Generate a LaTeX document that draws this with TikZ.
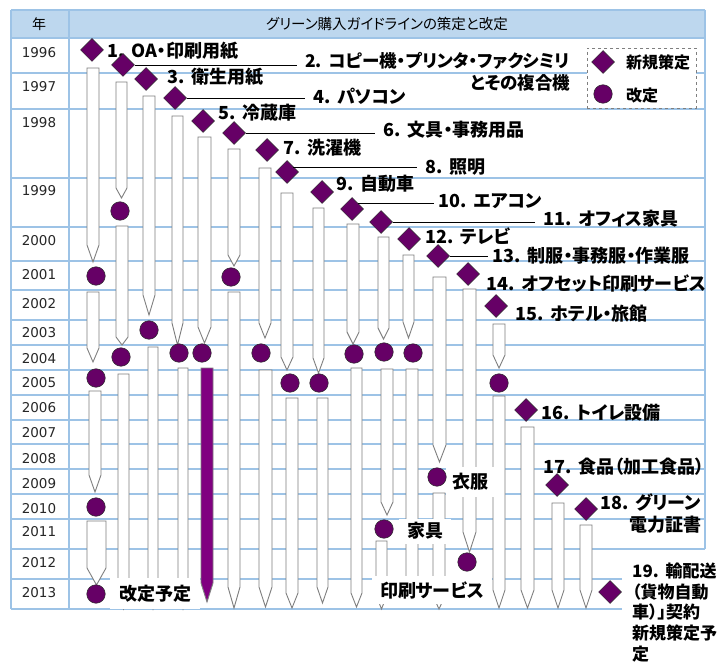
\documentclass[tikz,border=0pt]{standalone}
\usepackage{fontspec}
\setmainfont{Noto Sans CJK JP}[RawFeature=+palt]
\newfontfamily\yearfont{DejaVu Sans}
\usetikzlibrary{shapes.geometric}
\definecolor{gridblue}{HTML}{9DC3E6}
\definecolor{hdrblue}{HTML}{BDD7EE}
\definecolor{markpurple}{HTML}{660066}
\definecolor{barpurple}{HTML}{800080}
\definecolor{pgray}{HTML}{7F7F7F}
\newcommand\nsep{\hspace{0.4em}}
\newcommand\pencil[6][white]{%
  \draw[pencilline, fill=#1] (#2,#4) -- (#3,#4) -- (#3,#5) -- ({(#2+#3)/2},#6) -- (#2,#5) -- cycle;}
\tikzset{
  pencilline/.style={draw=pgray, line width=0.9pt},
  gridline/.style={draw=gridblue, line width=1.3pt},
  newmark/.style={shape=diamond, fill=markpurple, draw=black!85, line width=0.5pt, minimum width=23pt, minimum height=23pt, inner sep=0pt},
  revmark/.style={circle, fill=markpurple, draw=black!85, line width=0.5pt, minimum size=18.5pt, inner sep=0pt},
  lbl/.style={font=\fontsize{18}{22}\selectfont\bfseries, inner sep=0pt, anchor=west},
  boxlbl/.style={font=\fontsize{18}{22}\selectfont\bfseries, fill=white, inner sep=0pt},
  yr/.style={font=\yearfont\fontsize{13.5}{16}\selectfont, text=black!85},
  conn/.style={draw=black, line width=0.8pt},
  legendtxt/.style={font=\fontsize{16}{18}\selectfont\bfseries, inner sep=0pt, anchor=west}
}
\begin{document}
\begin{tikzpicture}[x=1pt, y=-1pt]
\useasboundingbox (0,0) rectangle (726,666);
\fill[white] (0,0) rectangle (726,666);
% header
\fill[hdrblue] (11,10) rectangle (705,38);
% grid
\foreach \yy in {10,38,73,109,178,227,261,290,320,345,370,395,420,444,469,494,519,549,579,609}
  \draw[gridline] (11,\yy) -- (705,\yy);
\fill[white] (622,551) rectangle (726,666);
\draw[gridline] (11,10) -- (11,609);
\draw[gridline] (69,10) -- (69,609);
\draw[gridline] (705,10) -- (705,549);
% header text
\node[font=\fontsize{14}{16}\selectfont] (hy) at (39,24) {年};
\node[font=\fontsize{14.5}{16}\selectfont] (ht) at (387,24) {グリーン購入ガイドラインの策定と改定};
% years
\node[yr] (y96) at (39,52.5) {1996};
\node[yr] (y97) at (39,87) {1997};
\node[yr] (y98) at (39,122.5) {1998};
\node[yr] (y99) at (39,191) {1999};
\node[yr] (y00) at (39,241) {2000};
\node[yr] (y01) at (39,275) {2001};
\node[yr] (y02) at (39,304) {2002};
\node[yr] (y03) at (39,333) {2003};
\node[yr] (y04) at (39,359) {2004};
\node[yr] (y05) at (39,383) {2005};
\node[yr] (y06) at (39,408) {2006};
\node[yr] (y07) at (39,433) {2007};
\node[yr] (y08) at (39,459) {2008};
\node[yr] (y09) at (39,484) {2009};
\node[yr] (y10) at (39,509) {2010};
\node[yr] (y11) at (39,532) {2011};
\node[yr] (y12) at (39,563) {2012};
\node[yr] (y13) at (39,593) {2013};
% pencils
\pencil{87}{99}{68}{245}{262}
\pencil{87}{99}{292}{348}{362}
\pencil{89}{101}{391}{475}{492}
\pencil{87}{106}{521}{568}{585}
\pencil{116}{127}{82}{188}{198}
\pencil{116}{128}{226}{337}{345}
\pencil{118}{129}{374}{592}{609}
\pencil{143}{155}{96}{295}{315}
\pencil{148}{158}{347}{592}{609}
\pencil{172}{183}{116}{323}{345}
\pencil{178}{188}{368}{592}{609}
\pencil{198}{211}{137}{327}{343}
\pencil[barpurple]{201}{213}{368}{583}{602}
\pencil{228}{240}{149}{255}{266}
\pencil{228}{240}{292}{587}{608}
\pencil{259}{271}{168}{323}{338}
\pencil{259}{272}{370}{587}{607}
\pencil{281}{293}{193}{357}{370}
\pencil{286}{298}{398}{593}{608}
\pencil{313}{324}{208}{358}{373}
\pencil{317}{328}{398}{587}{603}
\pencil{347}{359}{224}{332}{344}
\pencil{351}{362}{368}{593}{607}
\pencil{378}{389}{237}{328}{339}
\pencil{381}{393}{369}{502}{515}
\pencil{376}{387}{541}{595}{609}
\pencil{403}{414}{255}{322}{338}
\pencil{406}{418}{369}{588}{600}
\pencil{433}{446}{277}{445}{462}
\pencil{433}{445}{493}{596}{609}
\pencil{463}{476}{289}{532}{552}
\pencil{493}{505}{324}{355}{368}
\pencil{493}{505}{396}{590}{608}
\pencil{521}{534}{427}{590}{608}
\pencil{552}{564}{503}{590}{608}
\pencil{580}{592}{525}{590}{608}
% boxed labels
\node[boxlbl, minimum width=90pt, minimum height=31pt] (kaitei) at (155,593.5) {改定予定};
\node[boxlbl, minimum width=52pt, minimum height=25pt] (kagu) at (425,531) {家具};
\node[boxlbl, minimum width=48pt, minimum height=30pt] (ifuku) at (470,482) {衣服};
\node[boxlbl, minimum width=120pt, minimum height=28pt] (insatsu) at (432,590) {印刷サービス};
% labels
\node[lbl] (l1) at (107,51) {1.\nsep OA・印刷用紙};
\node[lbl, anchor=north west, align=right, font=\fontsize{17.5}{22}\selectfont\bfseries] (l2) at (305,52) {2.\nsep コピー機・プリンタ・ファクシミリ\\とその複合機};
\node[lbl] (l3) at (167,77) {3.\nsep 衛生用紙};
\node[lbl] (l4) at (313,96) {4.\nsep パソコン};
\node[lbl] (l5) at (218,113) {5.\nsep 冷蔵庫};
\node[lbl] (l6) at (383,130) {6.\nsep 文具・事務用品};
\node[lbl] (l7) at (283,148) {7.\nsep 洗濯機};
\node[lbl] (l8) at (425,167) {8.\nsep 照明};
\node[lbl] (l9) at (336,184) {9.\nsep 自動車};
\node[lbl] (l10) at (438,201) {10.\nsep エアコン};
\node[lbl] (l11) at (543,219) {11.\nsep オフィス家具};
\node[lbl] (l12) at (425,236) {12.\nsep テレビ};
\node[lbl] (l13) at (492,256) {13.\nsep 制服・事務服・作業服};
\node[lbl] (l14) at (486,284) {14.\nsep オフセット印刷サービス};
\node[lbl] (l15) at (515,314) {15.\nsep ホテル・旅館};
\node[lbl] (l16) at (541,413) {16.\nsep トイレ設備};
\node[lbl] (l17) at (543,467) {17.\nsep 食品（加工食品）};
\node[lbl, anchor=north west, align=right] (l18) at (600,493) {18.\nsep グリーン\\電力証書};
\node[lbl, anchor=north west, align=left, font=\fontsize{17}{20.6}\selectfont\bfseries] (l19) at (632,563) {19.\nsep 輸配送\\（貨物自動\\車）」契約\\新規策定予\\定};
% diamonds
\node[newmark] (d1) at (92,50) {};
\node[newmark] (d2) at (123,65) {};
\node[newmark] (d3) at (146,79) {};
\node[newmark] (d4) at (175,98) {};
\node[newmark] (d5) at (203,121) {};
\node[newmark] (d6) at (234,133) {};
\node[newmark] (d7) at (267,150) {};
\node[newmark] (d8) at (287,172) {};
\node[newmark] (d9) at (322,192) {};
\node[newmark] (d10) at (352,209) {};
\node[newmark] (d11) at (381,222) {};
\node[newmark] (d12) at (409,239) {};
\node[newmark] (d13) at (438,256) {};
\node[newmark] (d14) at (468,274) {};
\node[newmark] (d15) at (496,306) {};
\node[newmark] (d16) at (526,410) {};
\node[newmark] (d17) at (557,485) {};
\node[newmark] (d18) at (586,509) {};
\node[newmark] (d19) at (610,592) {};
% connectors
\draw[conn] (d2.east) -- ([xshift=-8pt]l2.west |- d2.east);
\draw[conn] (d4.east) -- ([xshift=-8pt]l4.west |- d4.east);
\draw[conn] (d6.east) -- ([xshift=-8pt]l6.west |- d6.east);
\draw[conn] ([xshift=6pt]d8.center |- l8.west) -- ([xshift=-8pt]l8.west);
\draw[conn] ([xshift=6pt]d10.center |- 0,203) -- ([xshift=-4pt]l10.west |- 0,203);
\draw[conn] (d11.east) -- ([xshift=-8pt]l11.west |- d11.east);
\draw[conn] (d13.east) -- ([xshift=-4pt]l13.west |- d13.east);
% circles
\node[revmark] (c1a) at (96,276) {};
\node[revmark] (c1b) at (96,378) {};
\node[revmark] (c1c) at (96,507) {};
\node[revmark] (c1d) at (96,594) {};
\node[revmark] (c2a) at (120,211) {};
\node[revmark] (c2b) at (121,357) {};
\node[revmark] (c3a) at (149,330) {};
\node[revmark] (c4a) at (179,353) {};
\node[revmark] (c5a) at (202,353) {};
\node[revmark] (c6a) at (231,277) {};
\node[revmark] (c7a) at (261,353) {};
\node[revmark] (c8a) at (290,383) {};
\node[revmark] (c9a) at (319,383) {};
\node[revmark] (c10a) at (354,354) {};
\node[revmark] (c11a) at (384,352) {};
\node[revmark] (c11b) at (384,529) {};
\node[revmark] (c12a) at (413,353) {};
\node[revmark] (c13a) at (437,477) {};
\node[revmark] (c14a) at (467,562) {};
\node[revmark] (c15a) at (499,383) {};
% legend
\node[draw=pgray, dashed, fill=white, line width=0.8pt, minimum width=109pt, minimum height=60pt, inner sep=0pt] (legend) at (641.5,78) {};
\node[newmark] (lgd) at (603,62) {};
\node[revmark] (lgc) at (603,94) {};
\node[legendtxt] (lgdt) at (626,62) {新規策定};
\node[legendtxt] (lgct) at (626,95) {改定};
\end{tikzpicture}
\end{document}
